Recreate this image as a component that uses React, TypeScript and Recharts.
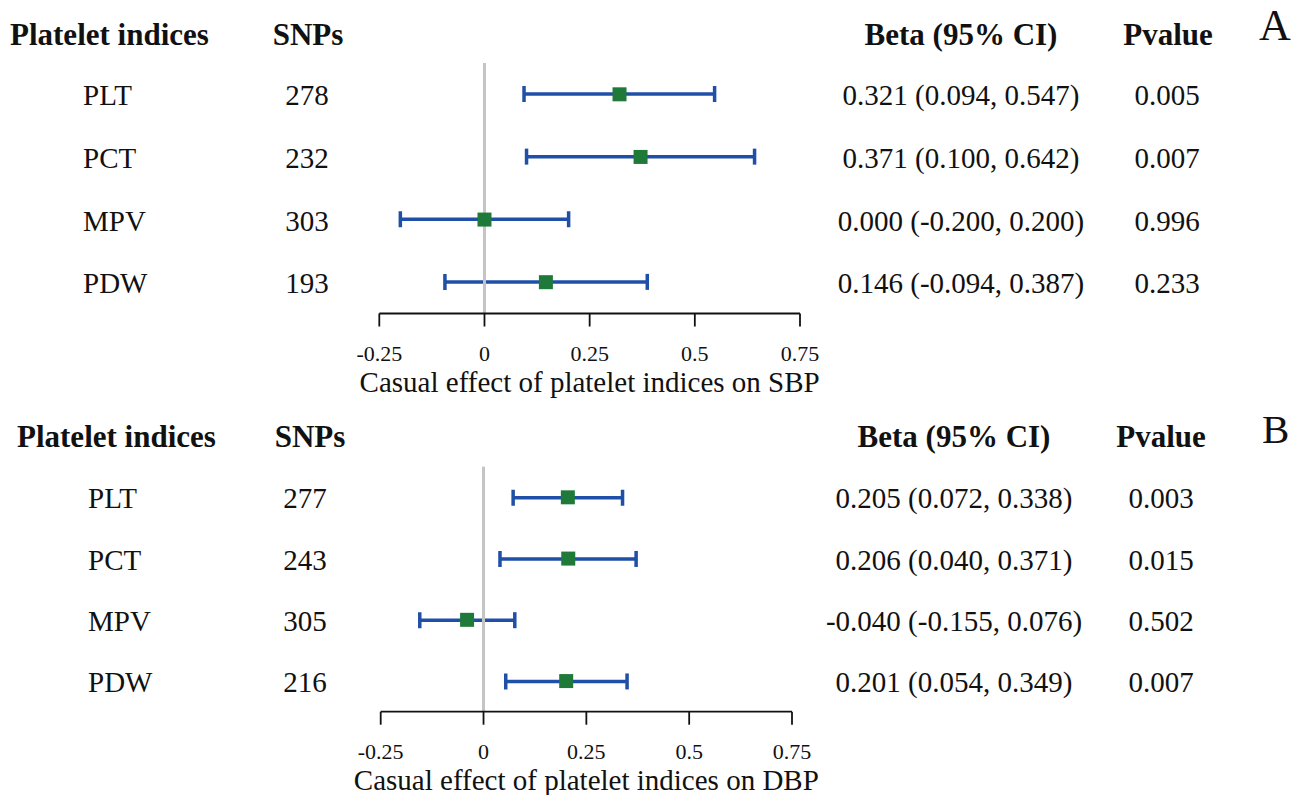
import { ComposedChart, Bar, Line, XAxis, YAxis, ReferenceLine } from 'recharts';

// panel A: SBP
const indicesA = ['PLT', 'PCT', 'MPV', 'PDW'];
const snpsA = [278, 232, 303, 193];
const betaA = [0.321, 0.371, 0.0, 0.146];
const lowerA = [0.094, 0.1, -0.2, -0.094];
const upperA = [0.547, 0.642, 0.2, 0.387];
const pvalA = ['0.005', '0.007', '0.996', '0.233'];

// panel B: DBP
const indicesB = ['PLT', 'PCT', 'MPV', 'PDW'];
const snpsB = [277, 243, 305, 216];
const betaB = [0.205, 0.206, -0.04, 0.201];
const lowerB = [0.072, 0.04, -0.155, 0.054];
const upperB = [0.338, 0.371, 0.076, 0.349];
const pvalB = ['0.003', '0.015', '0.502', '0.007'];

const xTicks = [-0.25, 0, 0.25, 0.5, 0.75];

const SERIF = '"Liberation Serif", "Times New Roman", serif';
const BLUE = '#1f4fa6';
const GREEN = '#1f7a3a';
const INK = '#111';

function makeRows(names, snps, beta, lower, upper, pval) {
  return names.map((name, i) => ({
    name,
    snps: snps[i],
    beta: beta[i],
    ci: [lower[i], upper[i]],
    label: `${beta[i].toFixed(3)} (${lower[i].toFixed(3)}, ${upper[i].toFixed(3)})`,
    p: pval[i],
  }));
}

const rowsA = makeRows(indicesA, snpsA, betaA, lowerA, upperA, pvalA);
const rowsB = makeRows(indicesB, snpsB, betaB, lowerB, upperB, pvalB);

function CiShape(props) {
  const { x, y, width, height } = props;
  const cy = y + height / 2;
  return (
    <g>
      <line x1={x} x2={x + width} y1={cy} y2={cy} stroke={BLUE} strokeWidth={3.5} />
      <line x1={x} x2={x} y1={y} y2={y + height} stroke={BLUE} strokeWidth={3.5} />
      <line x1={x + width} x2={x + width} y1={y} y2={y + height} stroke={BLUE} strokeWidth={3.5} />
    </g>
  );
}

function SquareDot(props) {
  const { cx, cy, index } = props;
  return <rect key={`sq-${index}`} x={cx - 7} y={cy - 7} width={14} height={14} fill={GREEN} />;
}

function Panel({ rows, outcome, height, top, plotLeft, rightMargin, plotBottom, cols }) {
  const renderRow = (props) => {
    const { y, payload } = props;
    const r = rows[payload.index];
    const base = { fontFamily: SERIF, fontSize: 29, fill: INK, dy: 11 };
    return (
      <g>
        <text x={cols.name} y={y} textAnchor="start" {...base}>{r.name}</text>
        <text x={cols.snps} y={y} textAnchor="middle" {...base}>{r.snps}</text>
        <text x={cols.beta} y={y} textAnchor="middle" {...base}>{r.label}</text>
        <text x={cols.p} y={y} textAnchor="middle" {...base}>{r.p}</text>
      </g>
    );
  };

  return (
    <ComposedChart
      width={1303}
      height={height}
      data={rows}
      layout="vertical"
      margin={{ top, right: rightMargin, bottom: 0, left: 0 }}
    >
      <XAxis
        type="number"
        domain={[-0.25, 0.75]}
        ticks={xTicks}
        allowDataOverflow
        height={height - plotBottom}
        stroke={INK}
        strokeWidth={1.8}
        tickSize={13}
        tickMargin={19}
        tick={{ fontFamily: SERIF, fontSize: 22, fill: INK }}
        label={{
          value: `Casual effect of platelet indices on ${outcome}`,
          position: 'insideBottom',
          offset: height - plotBottom - 78,
          style: { fontFamily: SERIF, fontSize: 29, fill: INK },
        }}
      />
      <YAxis
        type="category"
        dataKey="name"
        width={plotLeft}
        axisLine={false}
        tickLine={false}
        tick={renderRow}
        interval={0}
      />
      <ReferenceLine x={0} stroke="#c4c4c4" strokeWidth={3} />
      <Bar dataKey="ci" barSize={16} shape={<CiShape />} isAnimationActive={false} />
      <Line
        dataKey="beta"
        stroke="none"
        dot={<SquareDot />}
        activeDot={false}
        isAnimationActive={false}
      />
    </ComposedChart>
  );
}

export default function App() {
  const head = { fontFamily: SERIF, fontSize: 31, fontWeight: 700, fill: INK };
  return (
    <div style={{ position: 'absolute', left: 0, top: 0, width: 1303, height: 795, background: '#fff' }}>
      <Panel
        rows={rowsA}
        outcome="SBP"
        height={400}
        top={63}
        plotLeft={379.3}
        rightMargin={503}
        plotBottom={313.5}
        cols={{ name: 83, snps: 307, beta: 961, p: 1167 }}
      />
      <Panel
        rows={rowsB}
        outcome="DBP"
        height={395}
        top={66.7}
        plotLeft={380.7}
        rightMargin={511}
        plotBottom={311.7}
        cols={{ name: 88, snps: 305, beta: 954, p: 1161 }}
      />
      <svg
        width={1303}
        height={795}
        style={{ position: 'absolute', left: 0, top: 0, pointerEvents: 'none' }}
      >
        <text x={10} y={45} {...head}>Platelet indices</text>
        <text x={308} y={45} textAnchor="middle" {...head}>SNPs</text>
        <text x={961} y={45} textAnchor="middle" {...head}>Beta (95% CI)</text>
        <text x={1168} y={45} textAnchor="middle" {...head}>Pvalue</text>
        <text x={1259} y={40} fontFamily={SERIF} fontSize={44} fill={INK}>A</text>

        <text x={17} y={447} {...head}>Platelet indices</text>
        <text x={310} y={447} textAnchor="middle" {...head}>SNPs</text>
        <text x={954} y={447} textAnchor="middle" {...head}>Beta (95% CI)</text>
        <text x={1161} y={447} textAnchor="middle" {...head}>Pvalue</text>
        <text x={1262} y={443} fontFamily={SERIF} fontSize={41} fill={INK}>B</text>
      </svg>
    </div>
  );
}
